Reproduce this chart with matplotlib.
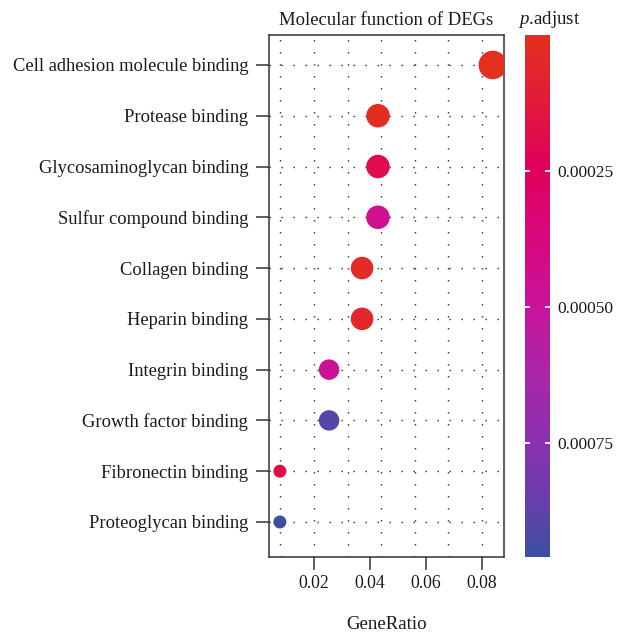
import numpy as np
import matplotlib
matplotlib.use("Agg")
import matplotlib.pyplot as plt
from matplotlib.colors import LinearSegmentedColormap, Normalize
from matplotlib.cm import ScalarMappable

plt.rcParams["font.family"] = ["Liberation Serif", "DejaVu Serif"]
plt.rcParams["mathtext.fontset"] = "custom"
plt.rcParams["mathtext.rm"] = "Liberation Serif"
plt.rcParams["mathtext.it"] = "Liberation Serif:italic"

# GO molecular function enrichment results
terms = [
    "Cell adhesion molecule binding",
    "Protease binding",
    "Glycosaminoglycan binding",
    "Sulfur compound binding",
    "Collagen binding",
    "Heparin binding",
    "Integrin binding",
    "Growth factor binding",
    "Fibronectin binding",
    "Proteoglycan binding",
]
gene_ratio = [0.0840, 0.0429, 0.0429, 0.0429, 0.0372, 0.0372, 0.0254, 0.0254, 0.0078, 0.0078]
counts = [14, 7, 7, 7, 6, 6, 4, 4, 1, 1]
p_adjust = [0.000010, 0.000020, 0.000190, 0.000450, 0.000030, 0.000060,
            0.000470, 0.000900, 0.000180, 0.000955]

xticks = [0.02, 0.04, 0.06, 0.08]
cbar_ticks = [0.00025, 0.00050, 0.00075]

DPI = 100
fig = plt.figure(figsize=(6.17, 6.33), dpi=DPI)
W, H = 617, 633
TXT = "#1a1a1a"

def frac(x0, y0, x1, y1):
    return [x0 / W, 1 - y1 / H, (x1 - x0) / W, (y1 - y0) / H]

ax = fig.add_axes(frac(269, 35, 504, 557))
cax = fig.add_axes(frac(525, 35, 550, 557))

cmap = LinearSegmentedColormap.from_list("padj", [
    (0.00, "#E2301C"),
    (0.12, "#E21C3A"),
    (0.25, "#E0005A"),
    (0.38, "#D8087C"),
    (0.52, "#C8139A"),
    (0.65, "#AA26A8"),
    (0.78, "#8A30B0"),
    (0.90, "#6440AA"),
    (1.00, "#3C50A2"),
])
norm = Normalize(vmin=0.0, vmax=0.00096)

ypos = np.arange(len(terms))[::-1]

# dotted grid
grid_kw = dict(color="#111111", lw=1.0, dashes=(0.9, 7.74), zorder=1)
for gx in np.arange(0.008, 0.0801, 0.012):
    ax.axvline(gx, **grid_kw)
for gy in ypos:
    ax.axhline(gy, **grid_kw)

c = np.asarray(counts, dtype=float)
diam_px = 13 + 15.5 * np.sqrt((c - c.min()) / (c.max() - c.min()))
diam_pt = diam_px * 72 / DPI
ax.scatter(gene_ratio, ypos, s=diam_pt ** 2, c=p_adjust, cmap=cmap, norm=norm,
           edgecolors="none", zorder=3)

ax.set_xlim(0.0039, 0.0880)
ax.set_ylim(-0.69, len(terms) - 1 + 0.59)
ax.set_xticks(xticks)
ax.set_xticklabels([f"{t:.2f}" for t in xticks])
ax.set_yticks(ypos)
ax.set_yticklabels(terms, fontsize=13.3)
for sp in ax.spines.values():
    sp.set_color("#333333")
    sp.set_linewidth(1.1)
ax.tick_params(axis="both", length=9.5, width=1.1, color="#333333",
               labelcolor=TXT)
ax.tick_params(axis="x", labelsize=12.8, pad=3.5)
ax.tick_params(axis="y", pad=5.5)
ax.set_xlabel("GeneRatio", fontsize=13.6, color=TXT, labelpad=17)
ax.set_title("Molecular function of DEGs", fontsize=13.4, color=TXT, pad=7)

sm = ScalarMappable(norm=norm, cmap=cmap)
cb = fig.colorbar(sm, cax=cax)
cb.outline.set_visible(False)
cax.invert_yaxis()
cb.set_ticks(cbar_ticks)
cb.set_ticklabels([f"{t:.5f}" for t in cbar_ticks])
cax.tick_params(axis="y", direction="in", left=True, right=True, color="white",
                length=3.8, width=1.3, labelsize=12.5, labelcolor=TXT, pad=5)
fig.text(518 / W, 1 - 19 / H, r"$p$.adjust", fontsize=13.6, color=TXT,
         ha="left", va="center")

fig.savefig("out.png", dpi=DPI)
